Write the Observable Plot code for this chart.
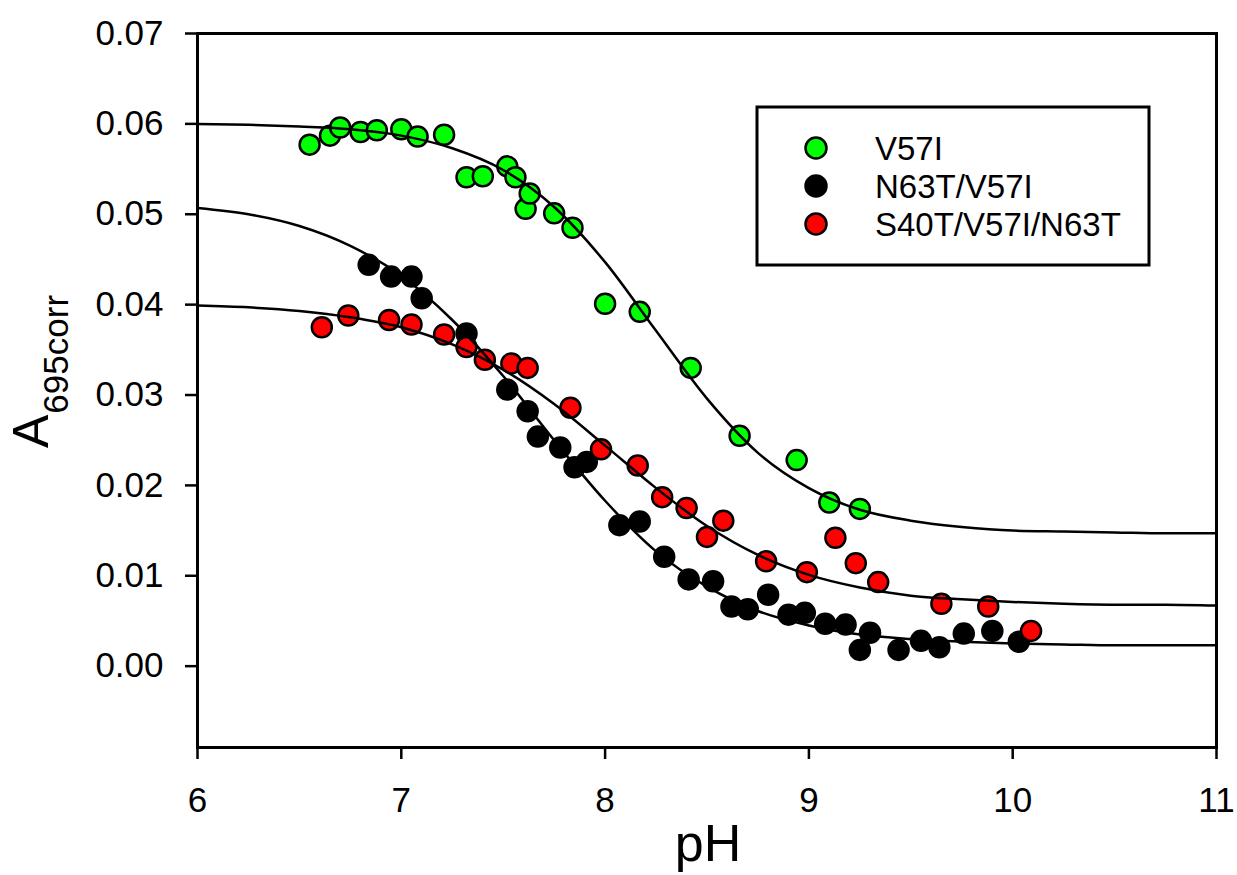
<!DOCTYPE html>
<html><head><meta charset="utf-8">
<script src="https://cdn.jsdelivr.net/npm/d3@7"></script>
<script src="https://cdn.jsdelivr.net/npm/@observablehq/plot@0.6"></script>
<style>html,body{margin:0;padding:0;background:#fff}#chart{width:1237px;height:875px}</style>
</head><body><div id="chart"></div>
<script>
// ---- data ----
const seriesNames = ["V57I", "N63T/V57I", "S40T/V57I/N63T"];
const seriesColors = ["#00ff00", "#000000", "#ff0000"];

const v57iPH = [6.55,6.65,6.70,6.80,6.88,7.00,7.08,7.21,7.32,7.40,7.52,7.56,7.61,7.63,7.75,7.84,8.00,8.17,8.42,8.66,8.94,9.10,9.25];
const v57iA  = [0.0577,0.0587,0.0596,0.0591,0.0593,0.0594,0.0586,0.0588,0.0541,0.0542,0.0553,0.0541,0.0506,0.0523,0.0501,0.0485,0.0401,0.0392,0.0330,0.0255,0.0228,0.0181,0.0174];

const n63tPH = [6.84,6.95,7.05,7.10,7.32,7.52,7.62,7.67,7.78,7.85,7.91,8.07,8.17,8.29,8.41,8.53,8.62,8.70,8.80,8.90,8.98,9.08,9.18,9.30,9.25,9.44,9.55,9.64,9.76,9.90,10.03];
const n63tA  = [0.0444,0.0431,0.0431,0.0407,0.0368,0.0306,0.0282,0.0254,0.0242,0.0220,0.0226,0.0156,0.0160,0.0121,0.0096,0.0094,0.0066,0.0063,0.0079,0.0057,0.0059,0.0047,0.0046,0.0037,0.0018,0.0018,0.0028,0.0021,0.0036,0.0039,0.0027];

const s40tPH = [6.61,6.74,6.94,7.05,7.21,7.32,7.41,7.54,7.62,7.83,7.98,8.16,8.28,8.40,8.50,8.58,8.79,8.99,9.13,9.23,9.34,9.65,9.88,10.09];
const s40tA  = [0.0375,0.0388,0.0383,0.0378,0.0367,0.0353,0.0339,0.0335,0.0330,0.0286,0.0240,0.0222,0.0187,0.0175,0.0143,0.0161,0.0116,0.0104,0.0142,0.0114,0.0093,0.0069,0.0066,0.0039];

// fitted curves
const fitPH   = [6,6.25,6.5,6.75,7,7.25,7.5,7.75,8,8.25,8.5,8.75,9,9.25,9.5,9.75,10,10.25,10.5,10.75,11];
const v57iFit = [0.0600,0.0599,0.0597,0.0594,0.0587,0.0573,0.0549,0.0508,0.0447,0.0371,0.0296,0.0236,0.0197,0.0173,0.0161,0.0154,0.0150,0.0149,0.0148,0.0147,0.0147];
const n63tFit = [0.0507,0.0500,0.0487,0.0465,0.0432,0.0383,0.0321,0.0250,0.0183,0.0127,0.0088,0.0061,0.0045,0.0035,0.0030,0.0027,0.0025,0.0024,0.0023,0.0023,0.0023];
const s40tFit = [0.0399,0.0397,0.0393,0.0386,0.0375,0.0356,0.0328,0.0290,0.0244,0.0197,0.0155,0.0123,0.0101,0.0087,0.0078,0.0074,0.0071,0.0069,0.0068,0.0068,0.0067];

const xTicks = [6,7,8,9,10,11];
const yTicks = [0,0.01,0.02,0.03,0.04,0.05,0.06,0.07];
const xLabel = "pH";
const yLabelMain = "A";
const yLabelSub = "695corr";

// ---- build tables ----
const pts = (ph, a) => ph.map((p, i) => ({ph: p, a: a[i]}));
const greenPts = pts(v57iPH, v57iA);
const blackPts = pts(n63tPH, n63tA);
const redPts = pts(s40tPH, s40tA);
const fits = [v57iFit, n63tFit, s40tFit].map(f => pts(fitPH, f));

const font = "'Liberation Sans', Arial, Helvetica, sans-serif";

const plot = Plot.plot({
  width: 1237, height: 875,
  marginLeft: 197, marginRight: 21, marginTop: 33, marginBottom: 128,
  style: {fontFamily: font, fontSize: "35px", color: "#000", background: "#fff", overflow: "visible"},
  x: {domain: [6, 11]},
  y: {domain: [-0.009, 0.07]},
  marks: [
    Plot.axisX(xTicks, {tickSize: 12, tickPadding: 28, strokeWidth: 2.5, label: null, fontSize: 35, tickFormat: d => String(d)}),
    Plot.axisY(yTicks, {tickSize: 12, tickPadding: 22, strokeWidth: 2.5, label: null, fontSize: 35, tickFormat: d3.format(".2f")}),
    Plot.dot(blackPts, {x: "ph", y: "a", r: 10, fill: seriesColors[1], stroke: "#000", strokeWidth: 2.5}),
    Plot.dot(redPts, {x: "ph", y: "a", r: 10, fill: seriesColors[2], stroke: "#000", strokeWidth: 2.5}),
    Plot.dot(greenPts, {x: "ph", y: "a", r: 10, fill: seriesColors[0], stroke: "#000", strokeWidth: 2.5}),
    ...fits.map(f => Plot.line(f, {x: "ph", y: "a", stroke: "#000", strokeWidth: 2.5, curve: "monotone-x"})),
    Plot.frame({stroke: "#000", strokeWidth: 3})
  ]
});

const svg = d3.select(plot);

// x axis title
svg.append("text")
  .attr("x", 708).attr("y", 861)
  .attr("text-anchor", "middle")
  .attr("font-family", font).attr("font-size", 52).attr("fill", "#000")
  .text(xLabel);

// y axis title with subscript
const yt = svg.append("text")
  .attr("transform", "translate(48,448) rotate(-90)")
  .attr("text-anchor", "start")
  .attr("font-family", font).attr("fill", "#000");
yt.append("tspan").attr("font-size", 50).text(yLabelMain);
yt.append("tspan").attr("font-size", 35).attr("dy", 20).attr("dx", 1).text(yLabelSub);

// legend
const lg = svg.append("g");
lg.append("rect").attr("x", 757).attr("y", 107).attr("width", 392).attr("height", 158)
  .attr("fill", "#fff").attr("stroke", "#000").attr("stroke-width", 3);
seriesNames.forEach((name, i) => {
  const cy = 148 + i * 38;
  lg.append("circle").attr("cx", 816).attr("cy", cy).attr("r", 10.5)
    .attr("fill", seriesColors[i]).attr("stroke", "#000").attr("stroke-width", 2.5);
  lg.append("text").attr("x", 875).attr("y", cy + 12)
    .attr("text-anchor", "start")
    .attr("font-family", font).attr("font-size", 33).attr("fill", "#000")
    .text(name);
});

document.getElementById("chart").appendChild(plot);
</script>
</body></html>
